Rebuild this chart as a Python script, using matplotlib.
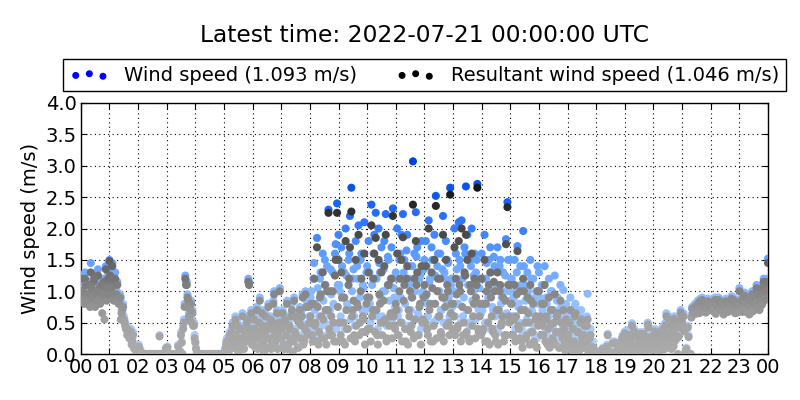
import numpy as np
import matplotlib
matplotlib.use("Agg")
import matplotlib.pyplot as plt
from matplotlib.colors import LinearSegmentedColormap

# wind speed, 3-minute samples (on the minute), one row per hour, plus the 24:00 value
wind_rows = [
    [1.25,1.1,0.95,1.3,1.0,0.85,1.15,1.45,0.9,1.2,0.8,1.0,1.35,1.1,0.95,0.85,1.2,1.05,0.9,1.3],
    [1.5,1.2,1.45,0.9,1.3,1.0,0.95,0.85,0.9,0.75,0.6,0.5,0.45,0.35,0.3,0.4,0.25,0.15,0.1,0.05],
    [0.1,0.05,0.0,0.02,0.0,0.0,0.0,0.0,0.0,0.0,0.0,0.0,0.0,0.0,0.0,0.3,0.0,0.0,0.0,0.0],
    [0.1,0.0,0.0,0.0,0.0,0.0,0.0,0.0,0.15,0.0,0.35,0.0,0.55,1.25,1.15,0.9,0.6,0.85,0.7,0.5],
    [0.2,0.0,0.0,0.0,0.0,0.0,0.0,0.0,0.0,0.0,0.0,0.0,0.0,0.0,0.0,0.0,0.0,0.0,0.0,0.0],
    [0.0,0.1,0.25,0.0,0.35,0.15,0.5,0.2,0.6,0.3,0.05,0.45,0.25,0.65,0.1,0.4,0.55,1.2,0.3,0.7],
    [0.35,0.6,0.15,0.75,0.4,0.9,0.2,0.5,0.05,0.65,0.3,0.8,0.45,0.1,0.55,1.0,0.25,0.7,0.4,1.05],
    [0.3,0.7,0.1,0.55,0.85,0.2,0.45,0.65,0.05,0.9,0.35,0.6,0.15,0.75,0.5,0.95,0.25,1.0,0.4,0.8],
    [0.6,1.0,0.4,1.45,0.8,1.85,0.3,1.2,0.9,1.6,0.5,1.1,1.4,2.3,0.7,0.95,1.3,0.45,1.75,2.4],
    [1.9,1.0,1.7,0.5,1.3,2.0,0.8,1.5,2.2,2.65,1.2,0.6,1.8,1.4,2.05,0.9,1.6,1.1,2.1,0.7],
    [1.4,1.8,0.8,2.38,1.2,1.9,2.25,0.6,2.0,1.3,1.7,1.0,1.8,2.23,0.5,1.5,1.1,1.7,2.32,0.9],
    [1.3,2.0,0.7,1.6,1.9,2.23,1.5,0.4,1.9,1.2,1.4,0.9,3.07,1.6,2.26,1.7,0.6,1.25,1.8,1.0],
    [1.5,1.8,0.8,2.13,1.2,1.7,0.5,1.9,2.52,1.4,1.0,1.6,0.7,2.2,1.3,1.8,1.5,0.9,2.65,1.2],
    [1.2,2.0,1.6,0.8,2.1,1.4,2.13,0.6,1.7,2.67,1.9,0.5,1.5,2.0,1.0,1.6,1.3,2.71,0.7,1.2],
    [1.6,0.8,1.9,1.2,0.5,1.5,1.7,1.0,0.7,1.4,0.4,1.7,1.1,1.5,0.9,1.3,0.6,1.83,2.42,1.0],
    [1.5,1.2,0.6,1.5,1.0,1.72,0.8,1.4,0.4,1.96,1.1,0.5,1.3,0.9,1.5,0.7,1.2,0.3,1.0,1.4],
    [1.3,0.8,1.1,0.5,1.4,0.9,0.3,1.2,0.7,1.0,0.4,1.25,0.6,0.9,0.2,1.1,0.5,1.02,0.3,0.8],
    [0.6,0.3,0.9,0.1,0.5,0.75,0.2,0.45,0.05,0.6,0.35,0.15,0.55,0.25,0.96,0.1,0.4,0.05,0.2,0.0],
    [0.0,0.0,0.05,0.0,0.0,0.1,0.0,0.0,0.32,0.0,0.05,0.0,0.0,0.2,0.0,0.15,0.0,0.1,0.25,0.0],
    [0.36,0.1,0.0,0.39,0.2,0.49,0.0,0.15,0.3,0.05,0.25,0.0,0.1,0.35,0.2,0.0,0.5,0.1,0.3,0.15],
    [0.3,0.4,0.1,0.25,0.0,0.35,0.3,0.45,0.1,0.65,0.2,0.6,0.3,0.45,0.15,0.5,0.35,0.0,0.55,0.7],
    [0.52,0.65,0.0,0.1,0.45,0.0,0.0,0.75,0.7,0.8,0.72,0.85,0.68,0.78,0.9,0.74,0.82,0.7,0.88,0.76],
    [0.78,0.85,0.7,0.9,0.8,0.75,0.88,0.72,0.82,0.65,0.86,0.78,0.7,0.84,0.8,0.76,0.9,0.68,0.82,0.79],
    [1.05,0.8,0.7,0.88,0.95,0.75,0.85,0.65,0.9,1.0,0.78,0.82,1.1,0.95,0.72,1.08,0.85,1.2,0.9,1.15],
]
wind_last = 1.52

# wind speed, the in-between samples (1.5 minutes later)
wind_mid_rows = [
    [0.95,1.05,0.85,1.15,0.9,1.0,0.8,1.1,0.95,1.25,1.0,0.9,1.05,0.85,1.15,1.0,0.9,1.4,1.1,1.0],
    [1.3,1.1,1.25,1.0,0.9,1.15,0.85,0.95,0.7,0.8,0.55,0.45,0.35,0.4,0.3,0.2,0.35,0.1,0.15,0.05],
    [0.15,0.08,0.0,0.0,0.0,0.0,0.0,0.0,0.0,0.0,0.0,0.0,0.0,0.0,0.0,0.0,0.0,0.0,0.0,0.1],
    [0.12,0.0,0.0,0.0,0.0,0.0,0.0,0.0,0.0,0.05,0.2,0.45,0.8,1.15,0.95,0.65,0.75,0.55,0.5,0.3],
    [0.1,0.0,0.0,0.0,0.0,0.0,0.0,0.0,0.0,0.0,0.0,0.0,0.0,0.0,0.0,0.0,0.0,0.0,0.0,0.0],
    [0.05,0.2,0.0,0.3,0.1,0.4,0.25,0.15,0.35,0.5,0.2,0.3,0.1,0.45,0.35,0.25,0.6,1.15,0.45,0.2],
    [0.2,0.45,0.3,0.1,0.55,0.35,0.7,0.25,0.4,0.15,0.5,0.3,0.6,0.2,0.85,0.35,0.45,0.1,0.55,0.3],
    [0.45,0.2,0.6,0.35,0.1,0.5,0.3,0.8,0.25,0.4,0.65,0.15,0.55,0.3,0.7,0.2,0.45,0.85,0.35,0.6],
    [0.9,0.5,1.2,0.7,0.35,1.05,0.6,1.3,0.45,0.85,1.5,0.3,1.0,0.65,1.35,0.5,0.8,1.6,0.4,1.1],
    [1.1,0.6,1.4,0.9,0.4,1.25,0.75,1.6,0.55,1.0,1.35,0.45,0.85,1.2,0.5,1.5,0.7,1.05,0.35,1.3],
    [0.8,1.3,0.5,1.1,1.6,0.7,1.2,0.4,1.45,0.9,0.6,1.35,1.0,0.45,1.55,0.85,1.2,0.55,1.05,0.75],
    [1.2,0.6,1.5,0.9,0.5,1.3,0.8,1.65,0.45,1.1,0.7,1.4,0.55,1.0,1.55,0.65,1.2,0.4,0.95,1.35],
    [0.9,1.4,0.6,1.15,0.45,1.5,0.8,1.25,0.55,1.6,1.0,0.7,1.35,0.5,1.2,0.85,1.45,0.6,1.1,0.75],
    [1.0,0.6,1.35,0.8,1.5,0.5,1.2,0.9,1.6,0.7,1.1,0.45,1.4,0.85,1.25,0.55,1.5,0.75,1.05,0.65],
    [0.7,1.2,0.5,1.45,0.9,0.4,1.3,0.75,1.55,0.6,1.1,0.35,1.4,0.8,1.0,0.5,1.25,0.65,1.5,0.85],
    [1.2,0.6,0.9,0.4,1.3,0.75,0.5,1.1,0.3,1.4,0.85,0.55,1.0,0.35,1.2,0.65,0.45,0.9,0.25,0.8],
    [0.9,0.5,0.7,1.1,0.35,0.8,0.6,0.25,1.0,0.45,0.7,0.3,0.85,0.55,0.2,0.75,0.4,0.6,0.15,0.5],
    [0.4,0.65,0.2,0.5,0.3,0.8,0.1,0.45,0.25,0.7,0.15,0.4,0.3,0.6,0.05,0.35,0.2,0.1,0.0,0.05],
    [0.0,0.05,0.0,0.0,0.1,0.0,0.0,0.15,0.0,0.0,0.0,0.2,0.0,0.05,0.0,0.0,0.1,0.0,0.3,0.05],
    [0.2,0.0,0.25,0.1,0.3,0.05,0.4,0.15,0.0,0.2,0.35,0.1,0.25,0.0,0.3,0.15,0.45,0.05,0.2,0.1],
    [0.15,0.25,0.35,0.05,0.2,0.4,0.1,0.3,0.5,0.2,0.35,0.55,0.1,0.4,0.6,0.25,0.5,0.3,0.45,0.6],
    [0.65,0.4,0.05,0.0,0.3,0.0,0.62,0.7,0.78,0.68,0.82,0.75,0.88,0.72,0.8,0.86,0.7,0.78,0.84,0.8],
    [0.82,0.74,0.86,0.68,0.8,0.9,0.76,0.84,0.7,0.8,0.88,0.72,0.85,0.78,0.92,0.74,0.8,0.86,0.7,0.84],
    [0.82,0.9,0.75,0.98,0.85,0.7,0.92,0.8,0.88,0.72,0.95,0.85,0.78,1.0,0.88,0.82,1.12,0.95,1.05,1.2],
]

# resultant wind speed, on-the-minute samples
res_rows = [
    [1.2,1.0,0.9,1.2,0.95,0.8,1.1,1.3,0.85,1.15,0.75,0.95,1.25,1.05,0.9,0.65,1.15,1.0,0.85,1.2],
    [1.48,1.1,1.4,0.85,1.2,0.95,0.9,0.8,0.55,0.7,0.55,0.45,0.4,0.3,0.25,0.35,0.2,0.1,0.08,0.03],
    [0.08,0.03,0.0,0.0,0.0,0.0,0.0,0.0,0.0,0.0,0.0,0.0,0.0,0.0,0.0,0.28,0.0,0.0,0.0,0.0],
    [0.1,0.0,0.0,0.0,0.0,0.0,0.0,0.0,0.12,0.0,0.3,0.0,0.5,1.2,1.1,0.85,0.55,0.8,0.65,0.45],
    [0.18,0.0,0.0,0.0,0.0,0.0,0.0,0.0,0.0,0.0,0.0,0.0,0.0,0.0,0.0,0.0,0.0,0.0,0.0,0.0],
    [0.0,0.08,0.2,0.0,0.3,0.12,0.45,0.15,0.55,0.25,0.03,0.4,0.2,0.6,0.08,0.35,0.5,1.15,0.25,0.65],
    [0.3,0.55,0.1,0.7,0.35,0.85,0.15,0.45,0.03,0.6,0.25,0.75,0.4,0.08,0.5,0.95,0.2,0.65,0.35,1.0],
    [0.25,0.65,0.08,0.5,0.8,0.15,0.4,0.6,0.03,0.85,0.3,0.55,0.1,0.7,0.45,0.9,0.2,0.95,0.35,0.75],
    [0.5,0.8,0.2,1.2,0.5,1.7,0.15,0.9,0.6,1.3,0.25,0.7,1.0,2.25,0.3,0.6,1.0,0.2,1.5,2.25],
    [1.5,0.5,1.3,0.2,0.9,1.8,0.4,1.1,1.7,2.27,0.7,0.3,1.5,0.8,1.9,0.5,1.2,0.6,1.6,0.35],
    [0.9,1.3,0.4,2.05,0.7,1.6,1.85,0.3,1.5,0.8,1.3,0.5,1.4,1.9,0.25,1.1,0.6,1.2,2.2,0.45],
    [0.8,1.6,0.3,1.2,1.5,1.86,1.1,0.2,1.4,0.7,1.0,0.45,2.38,1.2,1.8,1.3,0.3,0.8,1.4,0.55],
    [1.1,1.4,0.4,2.0,0.8,1.3,0.2,1.5,2.36,1.0,0.6,1.2,0.3,1.9,0.9,1.5,1.1,0.5,2.54,0.8],
    [0.8,1.7,1.2,0.4,1.8,1.0,2.0,0.3,1.3,1.9,1.5,0.25,1.1,1.6,0.6,1.2,0.9,2.65,0.35,0.8],
    [1.2,0.4,1.5,0.8,0.2,1.1,1.3,0.6,0.35,1.0,0.2,1.3,0.7,1.1,0.5,0.9,0.3,1.75,2.34,0.6],
    [1.1,0.8,0.3,1.1,0.6,1.64,0.4,1.0,0.2,1.2,0.7,0.25,0.9,0.5,1.1,0.35,0.8,0.15,0.6,1.0],
    [1.0,0.5,0.8,0.3,1.1,0.6,0.15,0.9,0.45,0.7,0.2,0.95,0.35,0.65,0.1,0.85,0.3,0.7,0.15,0.55],
    [0.5,0.2,0.7,0.05,0.4,0.6,0.1,0.35,0.0,0.5,0.25,0.1,0.45,0.2,0.55,0.05,0.3,0.0,0.1,0.0],
    [0.0,0.0,0.03,0.0,0.0,0.08,0.0,0.0,0.3,0.0,0.03,0.0,0.0,0.18,0.0,0.12,0.0,0.08,0.22,0.0],
    [0.33,0.08,0.0,0.3,0.18,0.45,0.0,0.12,0.27,0.03,0.22,0.0,0.08,0.32,0.18,0.0,0.47,0.08,0.27,0.12],
    [0.27,0.36,0.08,0.22,0.0,0.32,0.27,0.4,0.08,0.6,0.18,0.55,0.27,0.4,0.12,0.45,0.3,0.0,0.5,0.66],
    [0.5,0.6,0.0,0.08,0.42,0.0,0.0,0.72,0.66,0.76,0.7,0.8,0.65,0.75,0.86,0.7,0.78,0.67,0.84,0.73],
    [0.75,0.8,0.68,0.86,0.76,0.72,0.84,0.7,0.78,0.63,0.82,0.75,0.67,0.8,0.77,0.73,0.86,0.65,0.78,0.76],
    [1.0,0.77,0.67,0.84,0.9,0.72,0.8,0.63,0.86,0.95,0.75,0.78,1.05,0.9,0.7,1.02,0.8,1.15,0.86,1.1],
]
res_last = 1.45

# resultant wind speed, the in-between samples
res_mid_rows = [
    [0.9,1.0,0.8,1.1,0.85,0.95,0.75,1.05,0.9,1.2,0.95,0.85,1.0,0.8,1.1,0.95,0.55,1.35,1.05,0.95],
    [1.25,1.05,1.2,0.95,0.85,1.1,0.8,0.9,0.65,0.75,0.5,0.4,0.3,0.38,0.25,0.15,0.3,0.08,0.1,0.03],
    [0.12,0.05,0.0,0.0,0.0,0.0,0.0,0.0,0.0,0.0,0.0,0.0,0.0,0.0,0.0,0.0,0.0,0.0,0.0,0.08],
    [0.1,0.0,0.0,0.0,0.0,0.0,0.0,0.0,0.0,0.03,0.18,0.4,0.75,1.1,0.9,0.6,0.7,0.5,0.45,0.25],
    [0.08,0.0,0.0,0.0,0.0,0.0,0.0,0.0,0.0,0.0,0.0,0.0,0.0,0.0,0.0,0.0,0.0,0.0,0.0,0.0],
    [0.03,0.15,0.0,0.25,0.08,0.35,0.2,0.1,0.3,0.45,0.15,0.25,0.08,0.4,0.3,0.2,0.55,1.1,0.4,0.15],
    [0.15,0.4,0.25,0.08,0.5,0.3,0.65,0.2,0.35,0.1,0.45,0.25,0.55,0.15,0.8,0.3,0.4,0.08,0.5,0.25],
    [0.4,0.15,0.55,0.3,0.08,0.45,0.25,0.7,0.2,0.35,0.6,0.1,0.5,0.25,0.6,0.15,0.4,0.75,0.3,0.5],
    [0.6,0.3,0.8,0.45,0.2,0.75,0.35,0.95,0.25,0.55,1.1,0.15,0.7,0.4,1.0,0.3,0.5,1.25,0.2,0.75],
    [0.5,0.3,0.9,0.5,0.15,0.7,0.4,1.2,0.25,0.6,0.85,0.2,0.45,0.75,0.3,1.0,0.35,0.55,0.15,0.8],
    [0.4,0.9,0.2,0.6,1.2,0.35,0.7,0.15,0.95,0.5,0.3,0.85,0.55,0.2,1.1,0.45,0.65,0.25,0.6,0.4],
    [0.7,0.3,1.0,0.5,0.2,0.85,0.4,1.2,0.15,0.6,0.35,0.9,0.25,0.55,1.1,0.3,0.75,0.15,0.5,0.9],
    [0.5,0.95,0.3,0.7,0.2,1.05,0.45,0.8,0.25,1.2,0.6,0.35,0.9,0.2,0.75,0.45,1.0,0.3,0.65,0.4],
    [0.6,0.3,0.95,0.45,1.1,0.2,0.75,0.5,1.25,0.35,0.7,0.2,1.0,0.45,0.8,0.25,1.1,0.4,0.6,0.3],
    [0.35,0.8,0.2,1.0,0.5,0.15,0.9,0.4,1.15,0.3,0.7,0.15,1.0,0.45,0.6,0.2,0.85,0.3,1.1,0.5],
    [0.8,0.3,0.55,0.2,0.95,0.45,0.25,0.7,0.1,1.0,0.5,0.3,0.65,0.15,0.85,0.35,0.2,0.55,0.1,0.45],
    [0.6,0.3,0.45,0.8,0.2,0.55,0.4,0.1,0.7,0.25,0.5,0.15,0.6,0.35,0.1,0.5,0.25,0.4,0.05,0.3],
    [0.3,0.5,0.12,0.4,0.2,0.65,0.05,0.35,0.15,0.55,0.1,0.3,0.2,0.45,0.0,0.25,0.12,0.05,0.0,0.0],
    [0.0,0.03,0.0,0.0,0.08,0.0,0.0,0.12,0.0,0.0,0.0,0.17,0.0,0.03,0.0,0.0,0.08,0.0,0.27,0.03],
    [0.17,0.0,0.22,0.08,0.27,0.03,0.36,0.12,0.0,0.17,0.32,0.08,0.22,0.0,0.27,0.12,0.42,0.03,0.17,0.08],
    [0.12,0.22,0.32,0.03,0.17,0.36,0.08,0.27,0.46,0.17,0.32,0.5,0.08,0.36,0.56,0.22,0.46,0.27,0.42,0.56],
    [0.6,0.36,0.03,0.0,0.27,0.0,0.58,0.66,0.74,0.64,0.78,0.71,0.84,0.68,0.76,0.82,0.66,0.74,0.8,0.76],
    [0.78,0.7,0.82,0.64,0.76,0.86,0.72,0.8,0.66,0.76,0.84,0.68,0.81,0.74,0.88,0.7,0.76,0.82,0.66,0.8],
    [0.78,0.86,0.71,0.93,0.81,0.66,0.88,0.76,0.84,0.68,0.9,0.81,0.74,0.95,0.84,0.78,1.07,0.9,1.0,1.15],
]

hour_labels = ["00","01","02","03","04","05","06","07","08","09","10","11",
               "12","13","14","15","16","17","18","19","20","21","22","23","00"]

step = 3.0 / 60.0
wind_a = np.array([v for r in wind_rows for v in r] + [wind_last])
res_a = np.array([v for r in res_rows for v in r] + [res_last])
wind_b = np.array([v for r in wind_mid_rows for v in r])
res_b = np.array([v for r in res_mid_rows for v in r])
t_a = np.arange(len(wind_a)) * step
t_b = np.arange(len(wind_b)) * step + step / 2

t_all = np.concatenate([t_a, t_b])
wind = np.concatenate([wind_a, wind_b])
res = np.concatenate([res_a, res_b])

blue_cmap = LinearSegmentedColormap.from_list(
    "bl", [(0.0, "#b8d4ff"), (0.3, "#8fbcff"), (0.5, "#62a0ff"),
           (0.7, "#2f78ff"), (0.85, "#0f58ee"), (1.0, "#0044dd")])
gray_cmap = LinearSegmentedColormap.from_list(
    "gr", [(0.0, "#ababab"), (0.17, "#a2a2a2"), (0.33, "#858585"),
           (0.5, "#5e5e5e"), (0.67, "#444444"), (0.8, "#262626"), (1.0, "#000000")])

fig = plt.figure(figsize=(8, 4), dpi=100)
ax = fig.add_axes([0.101, 0.115, 0.859, 0.6275])

ax.scatter(t_all, wind, c=wind, cmap=blue_cmap, vmin=0, vmax=3.0, s=34, linewidths=0, zorder=3)
ax.scatter(t_all, res, c=res, cmap=gray_cmap, vmin=0, vmax=3.0, s=34, linewidths=0, zorder=4)

ax.set_xlim(0, 24)
ax.set_ylim(0, 4)
ax.set_xticks(np.arange(len(hour_labels)))
ax.set_xticklabels(hour_labels)
yt = np.arange(0, 4.01, 0.5)
ax.set_yticks(yt)
ax.set_yticklabels([f"{v:.1f}" for v in yt])
ax.tick_params(direction="in", top=True, right=True, labelsize=14, length=4, pad=3)
ax.grid(True, color="black", linestyle=(0, (1, 3)), linewidth=0.8)
ax.set_axisbelow(True)
ax.set_ylabel("Wind speed (m/s)", fontsize=14)
for sp in ax.spines.values():
    sp.set_linewidth(1.0)

h1 = ax.scatter([], [], color="blue", s=16)
h2 = ax.scatter([], [], color="black", s=16)
leg = ax.legend([h1, h2], ["Wind speed (1.093 m/s)", "Resultant wind speed (1.046 m/s)"],
                loc="lower center", bbox_to_anchor=(0.5, 1.0), ncol=2, fontsize=14,
                scatterpoints=3, fancybox=False, edgecolor="black", framealpha=1,
                borderaxespad=0.6, columnspacing=2.0, borderpad=0.35)
leg.get_frame().set_linewidth(1.0)

fig.text(0.531, 0.912, "Latest time: 2022-07-21 00:00:00 UTC", ha="center", va="center", fontsize=16.8)

fig.savefig("out.png", dpi=100)
